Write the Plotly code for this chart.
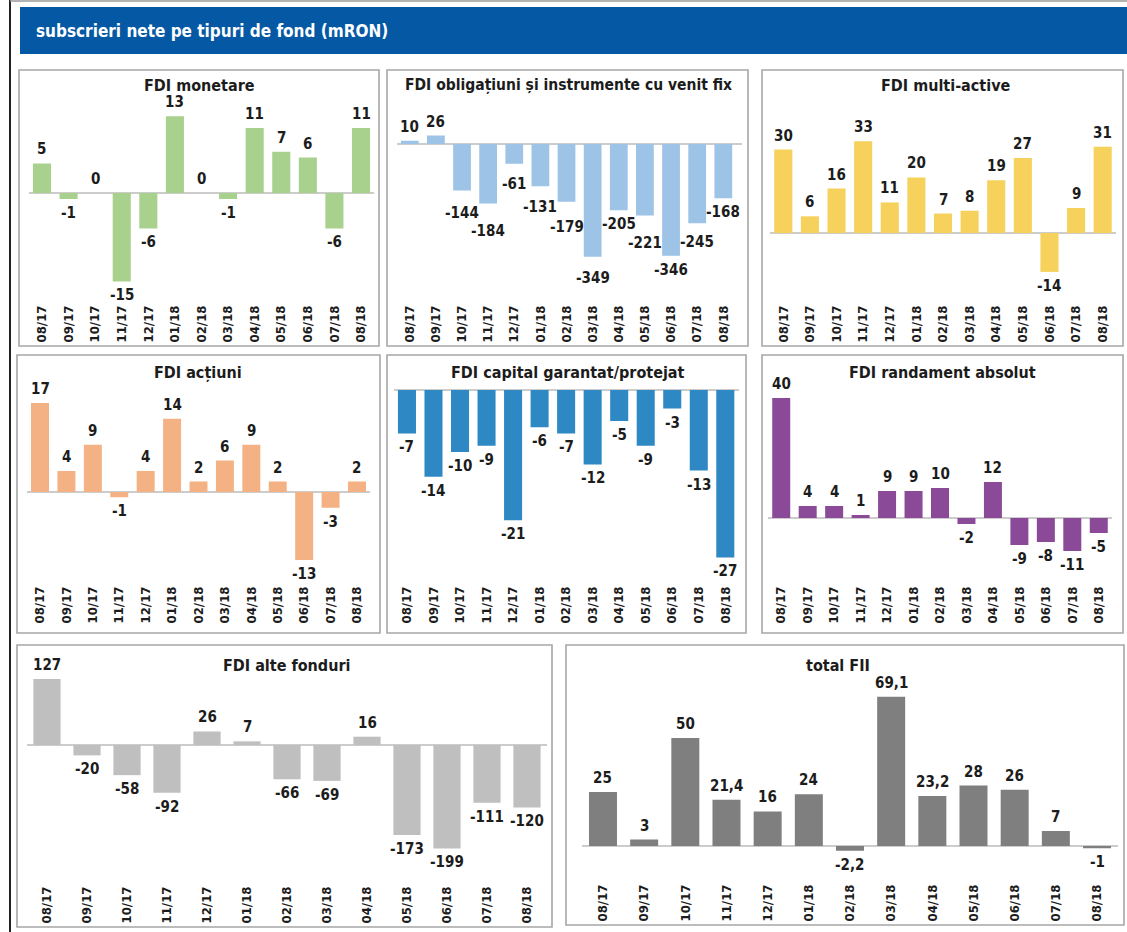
import plotly.graph_objects as go

# ---------------- data ----------------
months = ["08/17", "09/17", "10/17", "11/17", "12/17", "01/18", "02/18",
          "03/18", "04/18", "05/18", "06/18", "07/18", "08/18"]

fdi_monetare = [5, -1, 0, -15, -6, 13, 0, -1, 11, 7, 6, -6, 11]
fdi_obligatiuni = [10, 26, -144, -184, -61, -131, -179, -349, -205, -221, -346, -245, -168]
fdi_multi_active = [30, 6, 16, 33, 11, 20, 7, 8, 19, 27, -14, 9, 31]
fdi_actiuni = [17, 4, 9, -1, 4, 14, 2, 6, 9, 2, -13, -3, 2]
fdi_capital_garantat = [-7, -14, -10, -9, -21, -6, -7, -12, -5, -9, -3, -13, -27]
fdi_randament_absolut = [40, 4, 4, 1, 9, 9, 10, -2, 12, -9, -8, -11, -5]
fdi_alte_fonduri = [127, -20, -58, -92, 26, 7, -66, -69, 16, -173, -199, -111, -120]
total_fii = [25, 3, 50, 21.4, 16, 24, -2.2, 69.1, 23.2, 28, 26, 7, -1]

titles = ["FDI monetare", "FDI obligațiuni și instrumente cu venit fix", "FDI multi-active",
          "FDI acțiuni", "FDI capital garantat/protejat", "FDI randament absolut",
          "FDI alte fonduri", "total FII"]
series = [fdi_monetare, fdi_obligatiuni, fdi_multi_active, fdi_actiuni,
          fdi_capital_garantat, fdi_randament_absolut, fdi_alte_fonduri, total_fii]
header = "subscrieri nete pe tipuri de fond (mRON)"

# ---------------- layout / style ----------------
W, H = 1127, 932
FONT = "DejaVu Sans Condensed, Liberation Sans Narrow, DejaVu Sans, sans-serif"
TXT = "#1c1c1c"

colors = ["#a9d18e", "#9dc3e6", "#f6d25c", "#f4b183", "#2e88c4", "#8a4a98", "#bfbfbf", "#7f7f7f"]

# panel frame (x0, y0, x1, y1) in pixels
frames = [(19, 70, 379, 346), (387, 70, 748, 346), (762, 70, 1123, 346),
          (17, 355, 380, 633), (387, 355, 746, 633), (762, 355, 1123, 633),
          (17, 645, 552, 927), (566, 645, 1124, 925)]
# plot area x-extent, top, bottom (pixels), zero-line pixel, pixels per unit
plots = [
    dict(x0=28.7, x1=374.3, T=100, B=302, Z=193, k=5.9),
    dict(x0=396.7, x1=742.3, T=100, B=302, Z=144, k=0.323),
    dict(x0=770, x1=1116, T=100, B=302, Z=233, k=2.78),
    dict(x0=26.8, x1=370.2, T=385, B=583, Z=492, k=5.24),
    dict(x0=393.7, x1=739.3, T=385, B=583, Z=390, k=6.2),
    dict(x0=768, x1=1112, T=385, B=583, Z=518, k=3.0),
    dict(x0=27, x1=547, T=675, B=883, Z=745, k=0.52),
    dict(x0=582.4, x1=1117.6, T=675, B=881, Z=846, k=2.16),
]
title_pos = [(199, 85), (568, 85), (946, 85), (198, 372), (568, 372), (942, 372),
             (286, 665), (838, 665)]
title_size = [16, 15.5, 16, 16, 16, 16, 16, 16]
# extra gap (px) between some bar ends and their value labels, as placed in the reference
label_gap = {(1, 2): 8, (1, 3): 14, (1, 4): 6, (1, 5): 7, (1, 6): 11, (1, 7): 7,
             (1, 9): 14, (1, 11): 5}


def px(x):
    return x / W


def py(y):
    return 1 - y / H


def fmt(v):
    s = f"{v:g}"
    return s.replace(".", ",")


fig = go.Figure()
layout = dict(
    width=W, height=H, margin=dict(l=0, r=0, t=0, b=0),
    paper_bgcolor="white", plot_bgcolor="rgba(0,0,0,0)",
    showlegend=False, bargap=0.32,
    font=dict(family=FONT, color=TXT),
)

shapes = []
annotations = []

# outer frame lines and header banner
shapes.append(dict(type="line", xref="paper", yref="paper", x0=px(10), x1=px(10), y0=py(0), y1=py(932),
                   line=dict(color="#222222", width=2)))
shapes.append(dict(type="line", xref="paper", yref="paper", x0=px(10), x1=px(1127), y0=py(1), y1=py(1),
                   line=dict(color="#9a9a9a", width=1.5)))
shapes.append(dict(type="rect", xref="paper", yref="paper", x0=px(20), x1=px(1127), y0=py(54), y1=py(7),
                   fillcolor="#0559a4", line=dict(width=0), layer="below"))
annotations.append(dict(text=header, xref="paper", yref="paper", x=px(34), y=py(31),
                        xanchor="left", yanchor="middle", showarrow=False,
                        font=dict(family=FONT, size=17, color="white", weight="bold")))

for i in range(8):
    n = "" if i == 0 else str(i + 1)
    p = plots[i]
    fx0, fy0, fx1, fy1 = frames[i]
    shapes.append(dict(type="rect", xref="paper", yref="paper", x0=px(fx0), x1=px(fx1),
                       y0=py(fy1), y1=py(fy0), line=dict(color="#a6a6a6", width=1.6),
                       fillcolor="rgba(0,0,0,0)", layer="below"))
    tx, ty = title_pos[i]
    annotations.append(dict(text=titles[i], xref="paper", yref="paper", x=px(tx), y=py(ty),
                            xanchor="center", yanchor="middle", showarrow=False,
                            font=dict(family=FONT, size=title_size[i], color=TXT, weight="bold")))
    vals = series[i]
    fig.add_trace(go.Bar(
        x=months, y=vals, xaxis="x" + n, yaxis="y" + n,
        marker=dict(color=colors[i], line=dict(width=0)),
        hoverinfo="x+y",
    ))
    # value labels
    for j, (m, v) in enumerate(zip(months, vals)):
        extra = label_gap.get((i, j), 0)
        pos = v >= 0
        annotations.append(dict(
            text=fmt(v), xref="x" + n, yref="y" + n, x=m, y=v,
            xanchor="center", yanchor="bottom" if pos else "top",
            yshift=(3 + extra) if pos else -(3 + extra),
            showarrow=False,
            font=dict(family=FONT, size=15, color=TXT, weight="bold"),
        ))
    ylo = (p["Z"] - p["B"]) / p["k"]
    yhi = (p["Z"] - p["T"]) / p["k"]
    layout["xaxis" + n] = dict(
        domain=[px(p["x0"]), px(p["x1"])], anchor="y" + n, type="category",
        tickangle=-90, showgrid=False, showline=False, zeroline=False, ticks="",
        tickfont=dict(family=FONT, size=13, color=TXT, weight="bold"), fixedrange=True,
    )
    layout["yaxis" + n] = dict(
        domain=[py(p["B"]), py(p["T"])], anchor="x" + n, range=[ylo, yhi],
        showgrid=False, showline=False, showticklabels=False, ticks="",
        zeroline=True, zerolinecolor="#cccccc", zerolinewidth=1.5, fixedrange=True,
    )

layout["shapes"] = shapes
layout["annotations"] = annotations
fig.update_layout(**layout)

fig.write_html("out.html", config={"displayModeBar": False},
               post_script="document.body.style.margin='0';document.body.style.overflow='hidden';")
